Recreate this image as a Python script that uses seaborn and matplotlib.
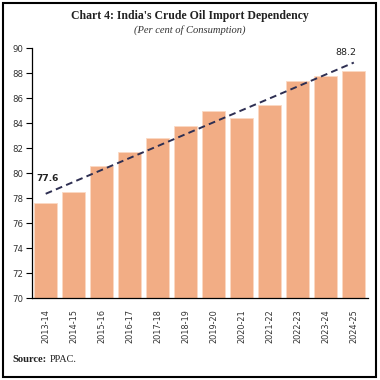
import numpy as np
import pandas as pd
import matplotlib.pyplot as plt
import seaborn as sns
from matplotlib.patches import Rectangle

# Data
years = ["2013-14", "2014-15", "2015-16", "2016-17", "2017-18", "2018-19",
         "2019-20", "2020-21", "2021-22", "2022-23", "2023-24", "2024-25"]
dependency = [77.6, 78.5, 80.6, 81.7, 82.8, 83.8, 85.0, 84.4, 85.5, 87.4, 87.8, 88.2]
yticks = [70, 72, 74, 76, 78, 80, 82, 84, 86, 88, 90]

df = pd.DataFrame({"year": years, "value": dependency})
df["pos"] = np.arange(len(df))

sns.set_style("white")
plt.rcParams["font.family"] = ["DejaVu Sans"]

bar_color = "#f2ad85"
line_color = "#2e2f52"
serif = ["Liberation Serif", "DejaVu Serif"]

fig = plt.figure(figsize=(3.8, 3.8), dpi=100)
ax = fig.add_axes([0.0834, 0.215, 0.8846, 0.658])

sns.barplot(data=df, x="year", y="value", color=bar_color, width=0.82,
            saturation=1, edgecolor="#fbd9c4", linewidth=0.6, ax=ax)
sns.regplot(data=df, x="pos", y="value", scatter=False, ci=None, ax=ax,
            line_kws=dict(color=line_color, linestyle=(0, (3.5, 2.2)), linewidth=1.4))

ax.set_ylim(70, 90)
ax.set_xlim(-0.5, len(years) - 0.5)
ax.set_yticks(yticks)
ax.set_yticklabels([str(v) for v in yticks], fontsize=6.2, color="#333333")

# ticks at category boundaries, labels at centres
ax.set_xticks(np.arange(len(years) + 1) - 0.5)
ax.set_xticklabels([])
ax.set_xticks(np.arange(len(years)), minor=True)
ax.set_xticklabels(years, minor=True, rotation=90, fontsize=5.9, color="#333333")
ax.tick_params(axis="x", which="major", length=4, width=0.8, color="black", direction="out")
ax.tick_params(axis="x", which="minor", length=0, pad=8)
ax.tick_params(axis="y", length=4, width=0.8, color="black", direction="out", pad=2, left=True)
ax.set_xlabel("")
ax.set_ylabel("")

for s in ["top", "right"]:
    ax.spines[s].set_visible(False)
for s in ["left", "bottom"]:
    ax.spines[s].set_color("black")
    ax.spines[s].set_linewidth(0.9)

# end labels
ax.text(0.05, 79.6, "77.6", ha="center", va="center", fontsize=6.5, fontweight="bold",
        color="#222222", clip_on=False)
ax.text(10.73, 89.7, "88.2", ha="center", va="center", fontsize=6.8, color="#222222",
        clip_on=False)

fig.text(0.5, 0.958, "Chart 4: India's Crude Oil Import Dependency", ha="center", va="center",
         fontsize=8.5, fontweight="bold", family=serif, color="#222222")
fig.text(0.5, 0.92, "(Per cent of Consumption)", ha="center", va="center",
         fontsize=7.6, style="italic", family=serif, color="#333333")
fig.text(0.032, 0.053, "Source:", ha="left", va="center", fontsize=7.6, fontweight="bold",
         family=serif, color="#222222")
fig.text(0.13, 0.053, "PPAC.", ha="left", va="center", fontsize=7.4,
         family=serif, color="#222222")

# frame round the figure
fig.patches.append(Rectangle((0.008, 0.008), 0.981, 0.983, transform=fig.transFigure,
                             fill=False, edgecolor="black", linewidth=1.5))

fig.savefig("out.png", dpi=100)
